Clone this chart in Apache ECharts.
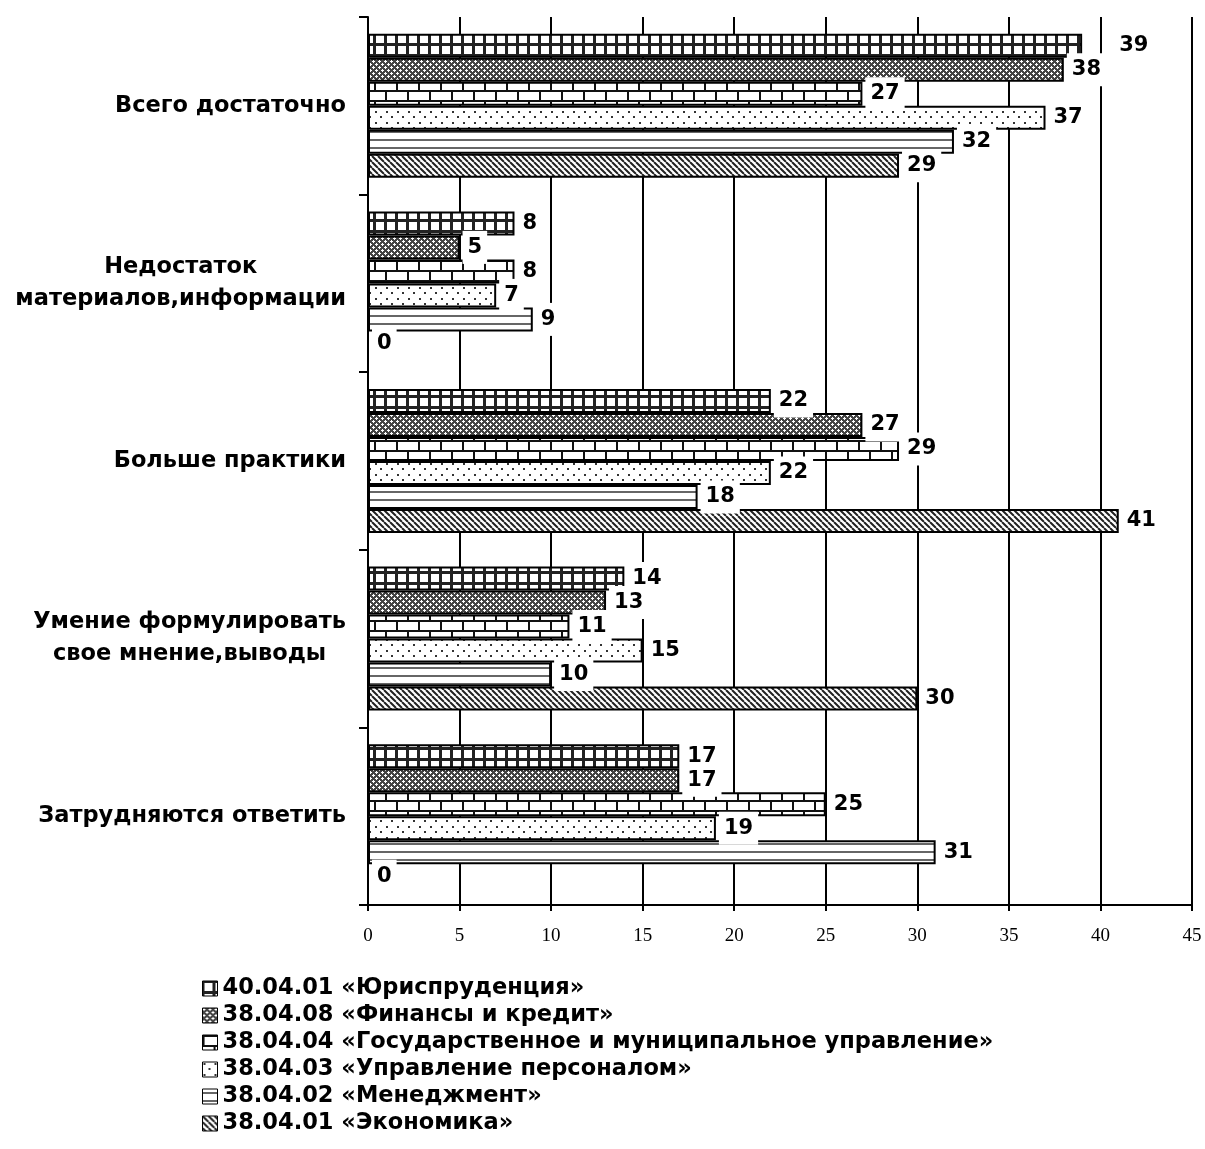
<!DOCTYPE html>
<html>
<head>
<meta charset="utf-8">
<script src="https://cdn.jsdelivr.net/npm/echarts@6/dist/echarts.min.js"></script>
<style>
html, body { margin: 0; padding: 0; background: #fff; }
#main { width: 1205px; height: 1149px; }
</style>
</head>
<body>
<div id="main"></div>
<script>
var categories = [
	'Всего достаточно',
	'Недостаток\nматериалов,информации',
	'Больше практики',
	'Умение формулировать\nсвое мнение,выводы',
	'Затрудняются ответить'
];
var seriesNames = [
	'40.04.01 «Юриспруденция»',
	'38.04.08 «Финансы и кредит»',
	'38.04.04 «Государственное и муниципальное управление»',
	'38.04.03 «Управление персоналом»',
	'38.04.02 «Менеджмент»',
	'38.04.01 «Экономика»'
];
var yurisprudence = [39, 8, 22, 14, 17];
var finance = [38, 5, 27, 13, 17];
var govManagement = [27, 8, 29, 11, 25];
var personnel = [37, 7, 22, 15, 19];
var management = [32, 9, 18, 10, 31];
var economics = [29, 0, 41, 30, 0];

var FONT = '"DejaVu Sans", "Liberation Sans", Arial, sans-serif';

function makePattern(w, h, draw) {
	var c = document.createElement('canvas');
	c.width = w;
	c.height = h;
	var ctx = c.getContext('2d');
	ctx.fillStyle = '#fff';
	ctx.fillRect(0, 0, w, h);
	draw(ctx, w, h);
	return { image: c, repeat: 'repeat' };
}

// small square grid
var gridPattern = makePattern(11, 11, function (ctx) {
	ctx.fillStyle = '#222';
	ctx.fillRect(0, 0, 11, 11);
	ctx.fillStyle = '#fff';
	ctx.fillRect(2, 2, 8, 8);
});
// dense crosses on grey
var crossPattern = makePattern(6, 6, function (ctx) {
	ctx.fillStyle = '#444';
	ctx.fillRect(0, 0, 6, 6);
	ctx.fillStyle = '#fff';
	ctx.fillRect(0, 1, 3, 1);
	ctx.fillRect(1, 0, 1, 3);
	ctx.fillRect(3, 4, 3, 1);
	ctx.fillRect(4, 3, 1, 3);
});
// bricks
var brickPattern = makePattern(22, 20, function (ctx) {
	ctx.fillStyle = '#111';
	ctx.fillRect(0, 0, 22, 2);
	ctx.fillRect(0, 10, 22, 2);
	ctx.fillRect(0, 0, 2, 10);
	ctx.fillRect(11, 10, 2, 10);
});
// sparse dots
var dotPattern = makePattern(11, 11, function (ctx) {
	ctx.fillStyle = '#333';
	ctx.fillRect(1, 1, 2, 2);
	ctx.fillRect(6, 6, 2, 2);
});
// horizontal stripes
var stripePattern = makePattern(8, 8, function (ctx) {
	ctx.fillStyle = '#666';
	ctx.fillRect(0, 3, 8, 2);
});
// diagonal hatch
var hatchPattern = makePattern(6, 6, function (ctx) {
	ctx.strokeStyle = '#222';
	ctx.lineWidth = 2;
	ctx.beginPath();
	for (var k = -6; k <= 6; k += 6) {
		ctx.moveTo(k, 0);
		ctx.lineTo(k + 6, 6);
	}
	ctx.stroke();
});

var patterns = [gridPattern, crossPattern, brickPattern, dotPattern, stripePattern, hatchPattern];
var values = [yurisprudence, finance, govManagement, personnel, management, economics];

var series = [];
for (var i = 0; i < seriesNames.length; i++) {
	var items = values[i].map(function (v, j) {
		// the first label in the reference sits further to the right
		if (i === 0 && j === 0) {
			return { value: v, label: { offset: [29, 0] } };
		}
		return v;
	});
	series.push({
		name: seriesNames[i],
		type: 'bar',
		data: items,
		barWidth: 24,
		barGap: '0%',
		itemStyle: {
			color: patterns[i],
			borderColor: '#000',
			borderWidth: 2
		},
		label: {
			show: true,
			position: 'right',
			distance: 3,
			color: '#000',
			fontFamily: FONT,
			fontWeight: 'bold',
			fontSize: 21,
			backgroundColor: '#fff',
			padding: [6, 5]
		}
	});
}

var myChart = echarts.init(document.getElementById('main'));

var option = {
	backgroundColor: '#fff',
	animation: false,
	grid: {
		left: 368,
		right: 13,
		top: 17,
		bottom: 244,
		containLabel: false
	},
	xAxis: {
		type: 'value',
		min: 0,
		max: 45,
		interval: 5,
		axisLine: { show: true, lineStyle: { color: '#000', width: 2 } },
		axisTick: { show: true, length: 6, lineStyle: { color: '#000', width: 2 } },
		splitLine: { show: true, lineStyle: { color: '#000', width: 2 } },
		axisLabel: {
			color: '#000',
			fontFamily: '"Liberation Serif", "Times New Roman", serif',
			fontSize: 19,
			margin: 22
		}
	},
	yAxis: {
		type: 'category',
		data: categories,
		inverse: true,
		axisLine: { show: true, lineStyle: { color: '#000', width: 2 } },
		axisTick: { show: true, length: 9, lineStyle: { color: '#000', width: 2 } },
		axisLabel: {
			margin: 22,
			color: '#000',
			formatter: function (v) {
				return v.split('\n').map(function (s) { return '{c|' + s + '}'; }).join('\n');
			},
			rich: {
				c: {
					align: 'center',
					fontFamily: FONT,
					fontWeight: 'bold',
					fontSize: 22.5,
					lineHeight: 32,
					color: '#000'
				}
			}
		}
	},
	legend: {
		data: seriesNames,
		orient: 'vertical',
		left: 197,
		top: 972,
		icon: 'rect',
		itemWidth: 15,
		itemHeight: 15,
		itemGap: 4,
		itemStyle: { borderColor: '#000', borderWidth: 1 },
		textStyle: {
			color: '#000',
			fontFamily: FONT,
			fontWeight: 'bold',
			fontSize: 22.5
		}
	},
	series: series
};
myChart.setOption(option);
</script>
</body>
</html>
